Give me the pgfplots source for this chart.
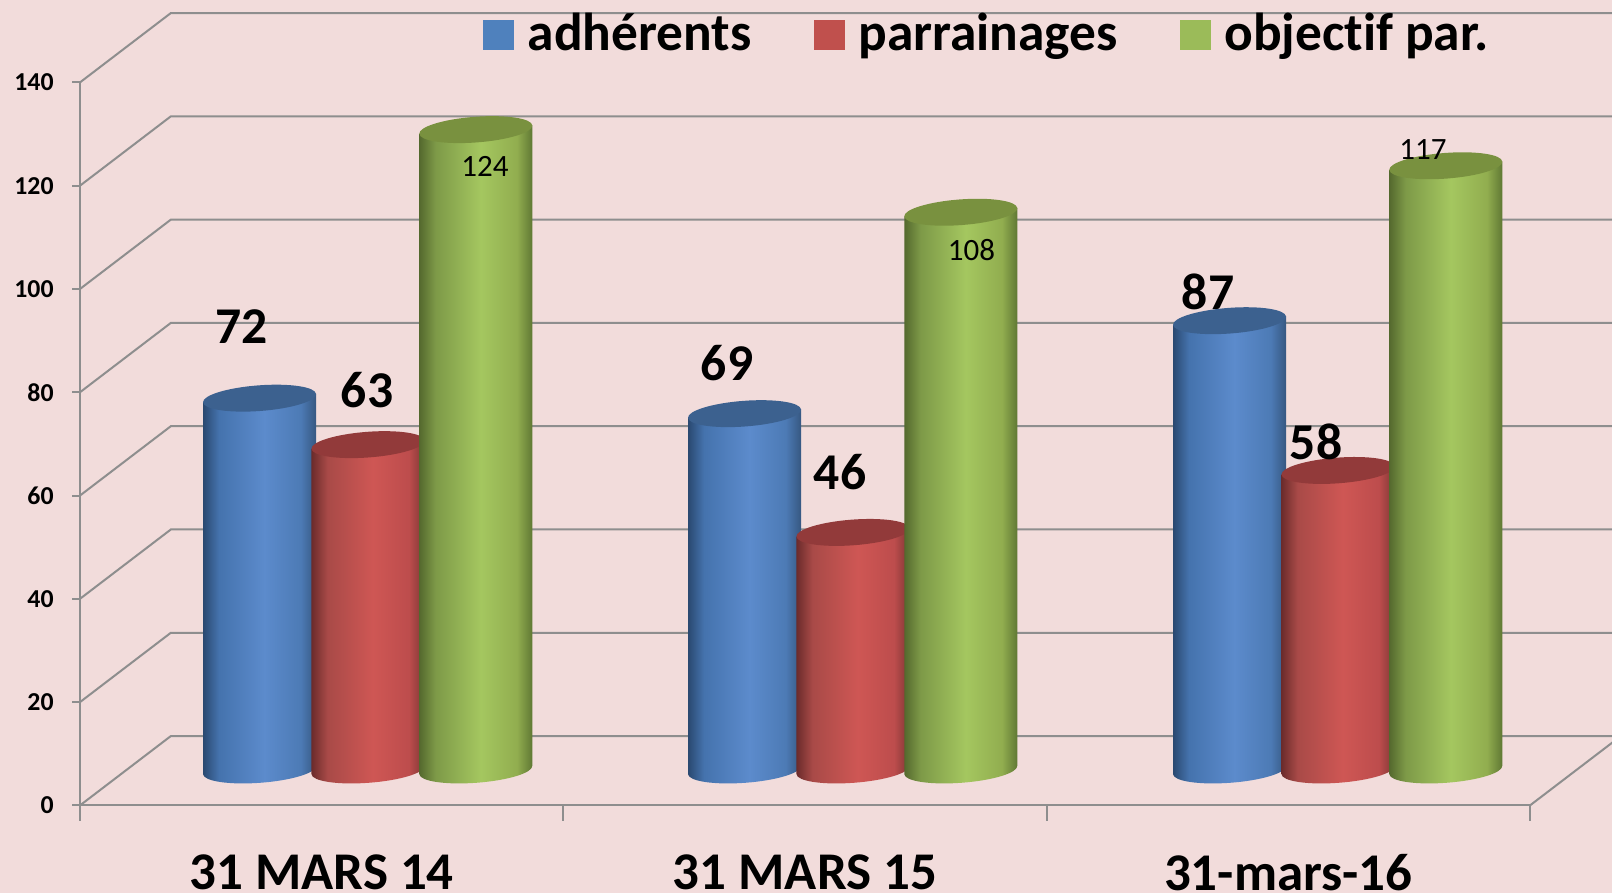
\documentclass[border=0pt]{standalone}
\usepackage{pgfplots}
\pgfplotsset{compat=1.18}
\usepackage{fontspec}
\setmainfont[Ligatures=NoCommon]{Carlito}
\definecolor{bgc}{HTML}{F2DCDB}
\definecolor{gridc}{HTML}{8E8E8E}
\definecolor{topblue}{HTML}{3C618F}
\definecolor{topred}{HTML}{923A3A}
\definecolor{topgreen}{HTML}{79913F}
\definecolor{legblue}{HTML}{4F81BD}
\definecolor{legred}{HTML}{C0504D}
\definecolor{leggreen}{HTML}{9BBB59}
\pgfdeclarehorizontalshading{cylblue}{100bp}{
 rgb(0bp)=(0.165,0.286,0.44);rgb(25bp)=(0.165,0.286,0.44);rgb(32bp)=(0.27,0.45,0.68);rgb(52bp)=(0.36,0.545,0.80);rgb(68bp)=(0.30,0.48,0.71);rgb(75bp)=(0.21,0.34,0.50);rgb(100bp)=(0.21,0.34,0.50)}
\pgfdeclarehorizontalshading{cylred}{100bp}{
 rgb(0bp)=(0.42,0.17,0.17);rgb(25bp)=(0.42,0.17,0.17);rgb(32bp)=(0.66,0.29,0.28);rgb(52bp)=(0.81,0.34,0.33);rgb(68bp)=(0.74,0.30,0.30);rgb(75bp)=(0.48,0.21,0.20);rgb(100bp)=(0.48,0.21,0.20)}
\pgfdeclarehorizontalshading{cylgreen}{100bp}{
 rgb(0bp)=(0.33,0.41,0.18);rgb(25bp)=(0.33,0.41,0.18);rgb(32bp)=(0.49,0.60,0.28);rgb(52bp)=(0.645,0.78,0.375);rgb(68bp)=(0.57,0.68,0.31);rgb(75bp)=(0.37,0.465,0.20);rgb(100bp)=(0.37,0.465,0.20)}
\newcommand\cyl[2]{%
 \pgfmathsetmacro\cylH{\cylv*2.582}%
 \pgfpathmoveto{\pgfqpoint{-28.25pt}{-2.1pt}}%
 \pgfpathlineto{\pgfpoint{-28.25pt}{-2.1pt-\cylH pt}}%
 \pgfpathcurveto{\pgfpoint{-27.99pt}{-5.63pt-\cylH pt}}{\pgfpoint{-15.13pt}{-7.56pt-\cylH pt}}{\pgfpoint{0.47pt}{-6.4pt-\cylH pt}}%
 \pgfpathcurveto{\pgfpoint{16.07pt}{-5.24pt-\cylH pt}}{\pgfpoint{28.51pt}{-1.43pt-\cylH pt}}{\pgfpoint{28.25pt}{2.1pt-\cylH pt}}%
 \pgfpathlineto{\pgfqpoint{28.25pt}{2.1pt}}%
 \pgfpathclose
 \pgfshadepath{#1}{0}\pgfusepath{discard}%
 \pgfpathellipse{\pgfpointorigin}{\pgfqpoint{28.25pt}{2.1pt}}{\pgfqpoint{-0.47pt}{6.4pt}}%
 \pgfsetfillcolor{#2}\pgfusepath{fill}%
}
\pgfdeclareplotmark{mblue}{\cyl{cylblue}{topblue}}
\pgfdeclareplotmark{mred}{\cyl{cylred}{topred}}
\pgfdeclareplotmark{mgreen}{\cyl{cylgreen}{topgreen}}
\pgfplotsset{
 cylplot/.style={scatter, only marks, mark=#1,
  visualization depends on=rawy\as\cylv,
  scatter/@pre marker code/.code={\scope},
  scatter/@post marker code/.code={\endscope}},
 wall/.style={draw=gridc, line width=1pt, forget plot, mark=none},
 leg/.style={legend image code/.code={\fill[#1] (0pt,-8pt) rectangle (15pt,6.5pt);}},
}
\begin{document}
\begin{tikzpicture}[x=1pt,y=1pt]
\clip (0pt,0pt) rectangle (806pt,446.5pt);
\fill[bgc] (0pt,0pt) rectangle (806pt,446.5pt);
% frame: front axis, walls and gridlines
\begin{axis}[
 at={(40pt,43.8pt)}, anchor=south west, scale only axis,
 width=725pt, height=361.5pt,
 xmin=0, xmax=3, ymin=0, ymax=140, clip=false,
 axis x line=bottom, axis y line=left,
 axis line style={draw=gridc, line width=1pt, -},
 tick style={draw=gridc, line width=1pt},
 major tick length=4pt, tick align=outside,
 xtick={0,1,2,3}, x tick label as interval,
 xticklabels={31 MARS 14,31 MARS 15,31-mars-16},
 xticklabel style={font=\fontsize{26.5}{26.5}\selectfont\bfseries, yshift=-20.5pt, inner sep=0pt, anchor=north},
 ytick={0,20,40,60,80,100,120,140},
 yticklabel style={font=\fontsize{12.9}{12.9}\selectfont\bfseries, inner sep=0pt, xshift=-9pt, anchor=east},
 /pgf/number format/assume math mode=true,
]
\addplot[wall] coordinates {(0,0) (0.188,13.43) (3.188,13.43)};
\addplot[wall] coordinates {(0,20) (0.188,33.43) (3.188,33.43)};
\addplot[wall] coordinates {(0,40) (0.188,53.43) (3.188,53.43)};
\addplot[wall] coordinates {(0,60) (0.188,73.43) (3.188,73.43)};
\addplot[wall] coordinates {(0,80) (0.188,93.43) (3.188,93.43)};
\addplot[wall] coordinates {(0,100) (0.188,113.43) (3.188,113.43)};
\addplot[wall] coordinates {(0,120) (0.188,133.43) (3.188,133.43)};
\addplot[wall] coordinates {(0,140) (0.188,153.43) (3.188,153.43)};
\addplot[wall] coordinates {(3,0) (3.188,13.43)};
\addplot[wall] coordinates {(0,0) (0,-3.1)};
\addplot[wall] coordinates {(1,0) (1,-3.1)};
\addplot[wall] coordinates {(2,0) (2,-3.1)};
\addplot[wall] coordinates {(3,0) (3,-3.1)};
\end{axis}
% cylinders: same y scale, floor set back by the depth of the chart
\begin{axis}[
 at={(62.25pt,61.5pt)}, anchor=south west, scale only axis,
 width=727.5pt, height=361.5pt,
 xmin=0, xmax=3, ymin=0, ymax=140, clip=false, hide axis,
 legend columns=3,
 legend cell align=left,
 legend style={at={(0.2464,1.0183)}, anchor=west, draw=none, fill=none, inner sep=0pt, outer sep=0pt,
  font=\fontsize{26.7}{26.7}\selectfont\bfseries,
  nodes={inner sep=0pt},
  /tikz/column 2/.style={column sep=31pt},
  /tikz/column 4/.style={column sep=31pt},
  /tikz/column 1/.style={column sep=7pt},
  /tikz/column 3/.style={column sep=7pt},
  /tikz/column 5/.style={column sep=7pt}},
]
\addplot[cylplot=mblue, leg=legblue] coordinates {(0.2784,72) (1.2784,69) (2.2784,87)};
\addlegendentry{adhérents}
\addplot[cylplot=mred, leg=legred] coordinates {(0.502,63) (1.502,46) (2.502,58)};
\addlegendentry{parrainages}
\addplot[cylplot=mgreen, leg=leggreen] coordinates {(0.7243,124) (1.7243,108) (2.7243,117)};
\addlegendentry{objectif par.}
\addplot[only marks, mark=none, forget plot, point meta=explicit symbolic, nodes near coords,
 every node near coord/.append style={anchor=center, inner sep=0pt, font=\fontsize{25.8}{25.8}\selectfont\bfseries}]
 coordinates {(0.2417,85.8)[72] (0.5,73.6)[63] (1.2423,78.8)[69] (1.4753,57.7)[46] (2.234,92.6)[87] (2.4567,63.5)[58]};
\addplot[only marks, mark=none, forget plot, point meta=explicit symbolic, nodes near coords,
 every node near coord/.append style={anchor=center, inner sep=0pt, font=\fontsize{15.5}{15.5}\selectfont}]
 coordinates {(0.7433,116.9)[124] (1.7464,100.7)[108] (2.6773,120.1)[117]};
\end{axis}
\end{tikzpicture}
\end{document}
